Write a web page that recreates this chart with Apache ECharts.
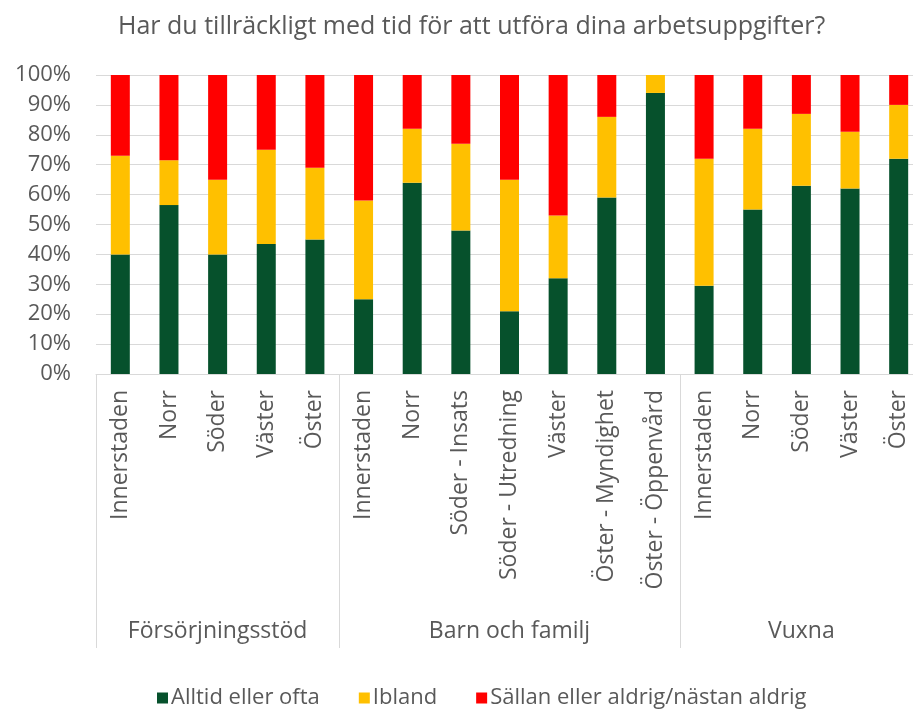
<!DOCTYPE html>
<html>
<head>
<meta charset="utf-8">
<script src="https://cdn.jsdelivr.net/npm/echarts@6/dist/echarts.min.js"></script>
<style>
  html, body { margin: 0; padding: 0; background: #fff; overflow: hidden; }
  /* the plot runs a little past the right edge of the window, as in the original */
  #chart { width: 923px; height: 710px; }
</style>
</head>
<body>
<div id="chart"></div>
<script>
// categories (one per bar) and the group each belongs to
const categories = [
  'Innerstaden', 'Norr', 'Söder', 'Väster', 'Öster',
  'Innerstaden', 'Norr', 'Söder - Insats', 'Söder - Utredning', 'Väster', 'Öster - Myndighet', 'Öster - Öppenvård',
  'Innerstaden', 'Norr', 'Söder', 'Väster', 'Öster'
]
const groups = ['Försörjningsstöd', 'Barn och familj', 'Vuxna']
const groupSizes = [5, 7, 5]

// shares in percent
const alltid = [40, 56.5, 40, 43.5, 45, 25, 64, 48, 21, 32, 59, 94, 29.5, 55, 63, 62, 72]
const ibland = [33, 15, 25, 31.5, 24, 33, 18, 29, 44, 21, 27, 6, 42.5, 27, 24, 19, 18]
const sallan = [27, 28.5, 35, 25, 31, 42, 18, 23, 35, 47, 14, 0, 28, 18, 13, 19, 10]

const seriesNames = ['Alltid eller ofta', 'Ibland', 'Sällan eller aldrig/nästan aldrig']
const yTicks = [0, 10, 20, 30, 40, 50, 60, 70, 80, 90, 100]

// group start indices (for separators) and middle indices (for group labels)
const groupStarts = []
const groupMiddles = {}
let pos = 0
groupSizes.forEach((n, i) => {
  groupStarts.push(pos)
  groupMiddles[pos + Math.floor(n / 2)] = groups[i]
  pos += n
})

const font = 'Open Sans'
const textGray = '#595959'
const lineGray = '#d9d9d9'

const chart = echarts.init(document.getElementById('chart'))

const option = {
  animation: false,
  title: {
    text: 'Har du tillräckligt med tid för att utföra dina arbetsuppgifter?',
    left: 113,
    top: 9,
    textStyle: { fontFamily: font, fontSize: 25, fontWeight: 'normal', color: textGray }
  },
  legend: {
    data: seriesNames,
    left: 152,
    top: 681,
    icon: 'rect',
    itemWidth: 11,
    itemHeight: 11,
    itemGap: 39,
    textStyle: { fontFamily: font, fontSize: 22, lineHeight: 24, color: textGray, padding: [0, 0, 0, -2] }
  },
  grid: {
    left: 96,
    right: 0,
    top: 75,
    bottom: 336
  },
  xAxis: [
    {
      type: 'category',
      data: categories,
      axisLine: { lineStyle: { color: lineGray, width: 1 } },
      axisTick: {
        show: true,
        length: 274,
        interval: (index) => groupStarts.includes(index),
        lineStyle: { color: lineGray, width: 1 }
      },
      axisLabel: {
        interval: 0,
        rotate: 90,
        margin: 16,
        fontFamily: font,
        fontSize: 23,
        color: textGray
      }
    },
    {
      type: 'category',
      data: categories,
      position: 'bottom',
      axisLine: { show: false },
      axisTick: { show: false },
      axisLabel: {
        interval: (index) => groupMiddles[index] !== undefined,
        formatter: (value, index) => groupMiddles[index] || '',
        margin: 246,
        fontFamily: font,
        fontSize: 23,
        color: textGray
      }
    }
  ],
  yAxis: {
    type: 'value',
    min: yTicks[0],
    max: yTicks[yTicks.length - 1],
    interval: 10,
    axisLine: { show: false },
    axisTick: { show: false },
    splitLine: { lineStyle: { color: lineGray, width: 1 } },
    axisLabel: {
      formatter: '{value}%',
      margin: 25,
      fontFamily: font,
      fontSize: 22,
      color: textGray
    }
  },
  series: [
    { name: seriesNames[0], type: 'bar', stack: 'total', barWidth: 19, data: alltid, itemStyle: { color: '#06512C' } },
    { name: seriesNames[1], type: 'bar', stack: 'total', barWidth: 19, data: ibland, itemStyle: { color: '#FFC000' } },
    { name: seriesNames[2], type: 'bar', stack: 'total', barWidth: 19, data: sallan, itemStyle: { color: '#FF0000' } }
  ]
}

chart.setOption(option)
</script>
</body>
</html>
